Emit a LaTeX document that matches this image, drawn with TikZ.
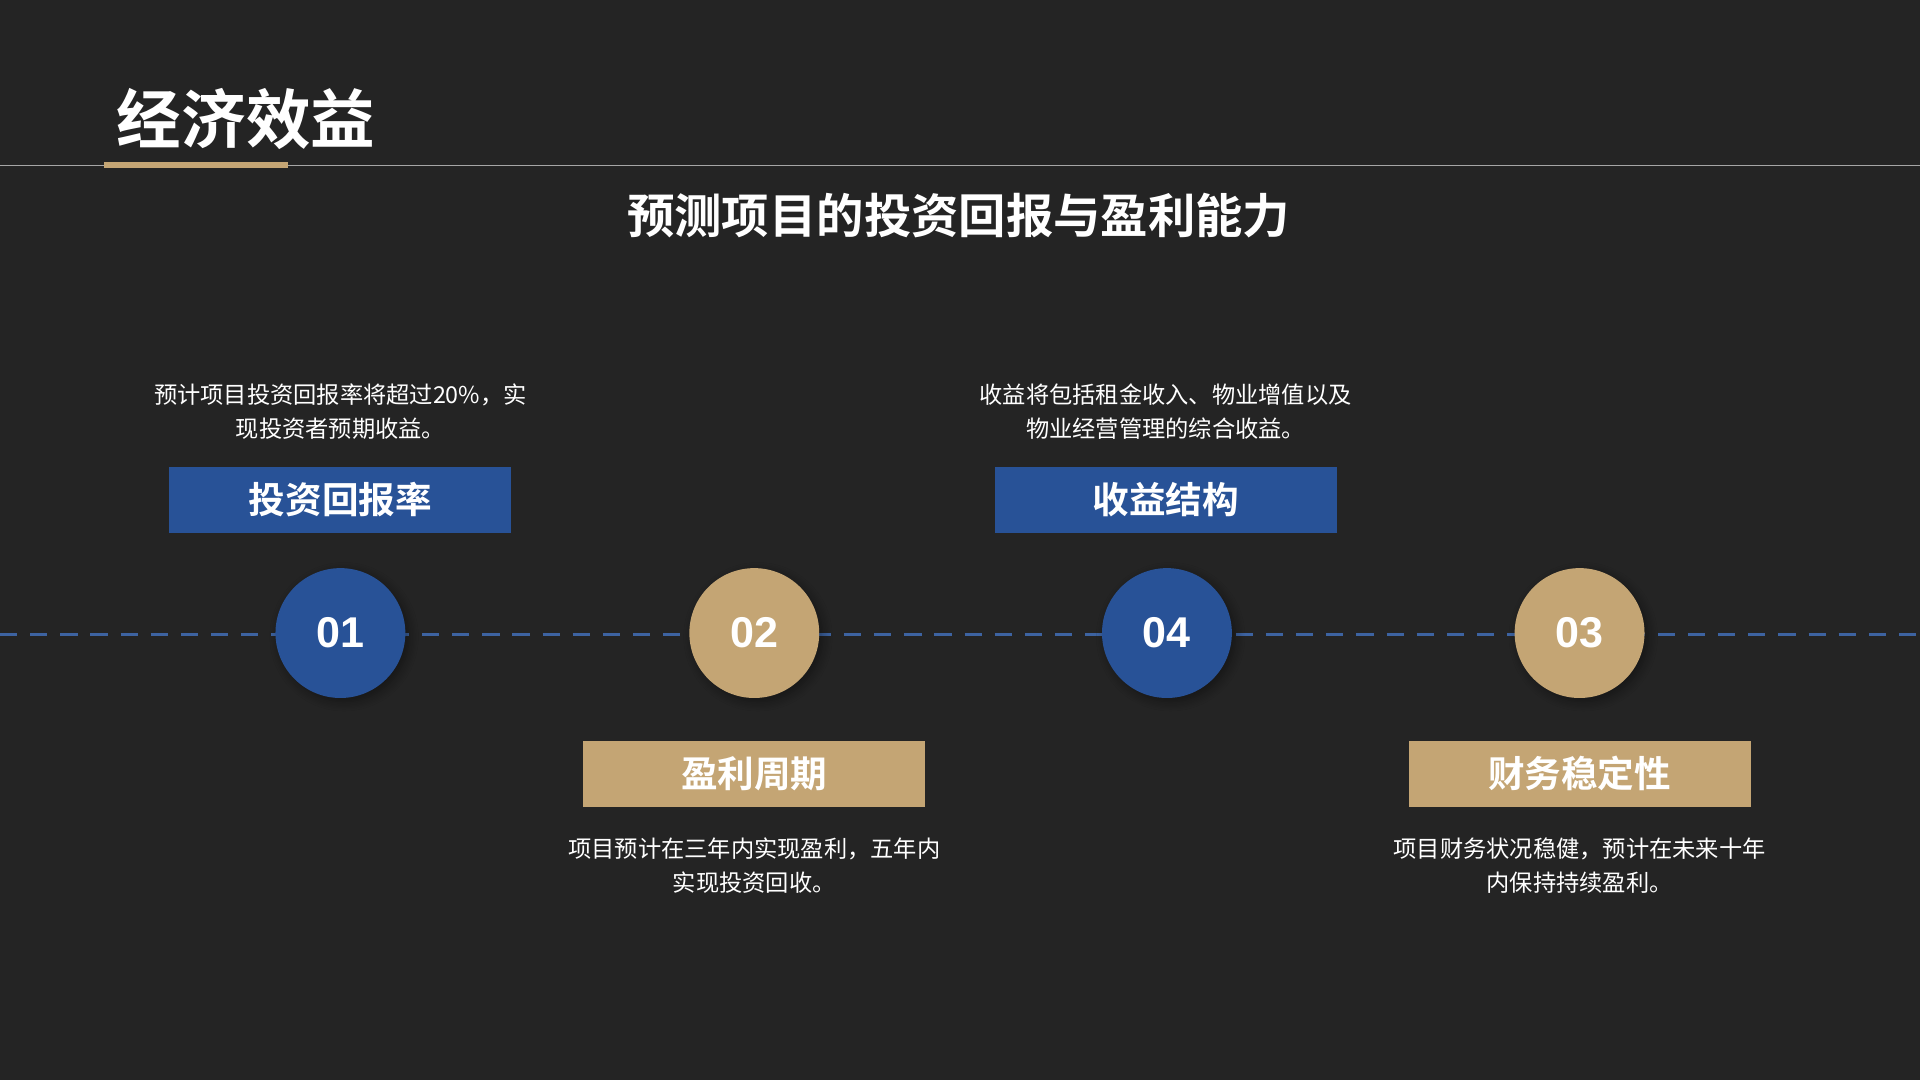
\documentclass[tikz,border=0pt]{standalone}
\usepackage{fontspec}
\setmainfont{Noto Sans CJK SC}
\newfontfamily\cjkb{Noto Sans CJK SC Bold}
\newfontfamily\numf{Liberation Sans}
\usetikzlibrary{shadows.blur}
\definecolor{bg}{HTML}{242424}
\definecolor{bl}{HTML}{285297}
\definecolor{gd}{HTML}{C4A574}
\tikzset{
 circ/.style={circle,minimum size=1.06cm,inner sep=0pt,text=white,font=\numf\bfseries\fontsize{10}{10}\selectfont,blur shadow={shadow blur steps=8,shadow xshift=0.03cm,shadow yshift=-0.03cm,shadow opacity=40}},
 lbox/.style={minimum width=2.79cm,minimum height=0.54cm,inner sep=0pt,text=white,font=\cjkb\fontsize{8.5}{8.5}\selectfont},
 desc/.style={align=center,text=white,font=\fontsize{5.4}{8}\selectfont,inner sep=0pt}
}
\begin{document}
\begin{tikzpicture}[x=0.01cm,y=-0.01cm]
\fill[bg] (0,0) rectangle (1568,882);
\useasboundingbox (0,0) rectangle (1568,882);
\coordinate (hl) at (0,135); \coordinate (hr) at (1568,135);
\draw[gray!70,line width=0.3pt] (hl) -- (hr);
\fill[gd] (85,132) rectangle (235,137.5);
\node[text=white,font=\cjkb\fontsize{15}{15}\selectfont] (title) at (201,97) {经济效益};
\node[text=white,font=\cjkb\fontsize{11}{11}\selectfont] (sub) at (783,176) {预测项目的投资回报与盈利能力};
\coordinate (dl) at (0,518); \coordinate (dr) at (1568,518);
\draw[bl!90!white,line width=0.7pt,dash pattern=on 4pt off 3pt] (dl) -- (dr);
\node[circ,fill=bl] (c1) at (278,517) {01};
\node[circ,fill=gd] (c2) at (616,517) {02};
\node[circ,fill=bl] (c4) at (953,517) {04};
\node[circ,fill=gd] (c3) at (1290,517) {03};
\node[lbox,fill=bl] (b1) at (278,408) {投资回报率};
\node[lbox,fill=bl] (b4) at (952,408) {收益结构};
\node[lbox,fill=gd] (b2) at (616,632) {盈利周期};
\node[lbox,fill=gd] (b3) at (1290,632) {财务稳定性};
\node[desc] (d1) at (278,336) {预计项目投资回报率将超过20\%，实\\现投资者预期收益。};
\node[desc] (d4) at (952,336) {收益将包括租金收入、物业增值以及\\物业经营管理的综合收益。};
\node[desc] (d2) at (616,707) {项目预计在三年内实现盈利，五年内\\实现投资回收。};
\node[desc] (d3) at (1290,707) {项目财务状况稳健，预计在未来十年\\内保持持续盈利。};
\end{tikzpicture}
\end{document}
